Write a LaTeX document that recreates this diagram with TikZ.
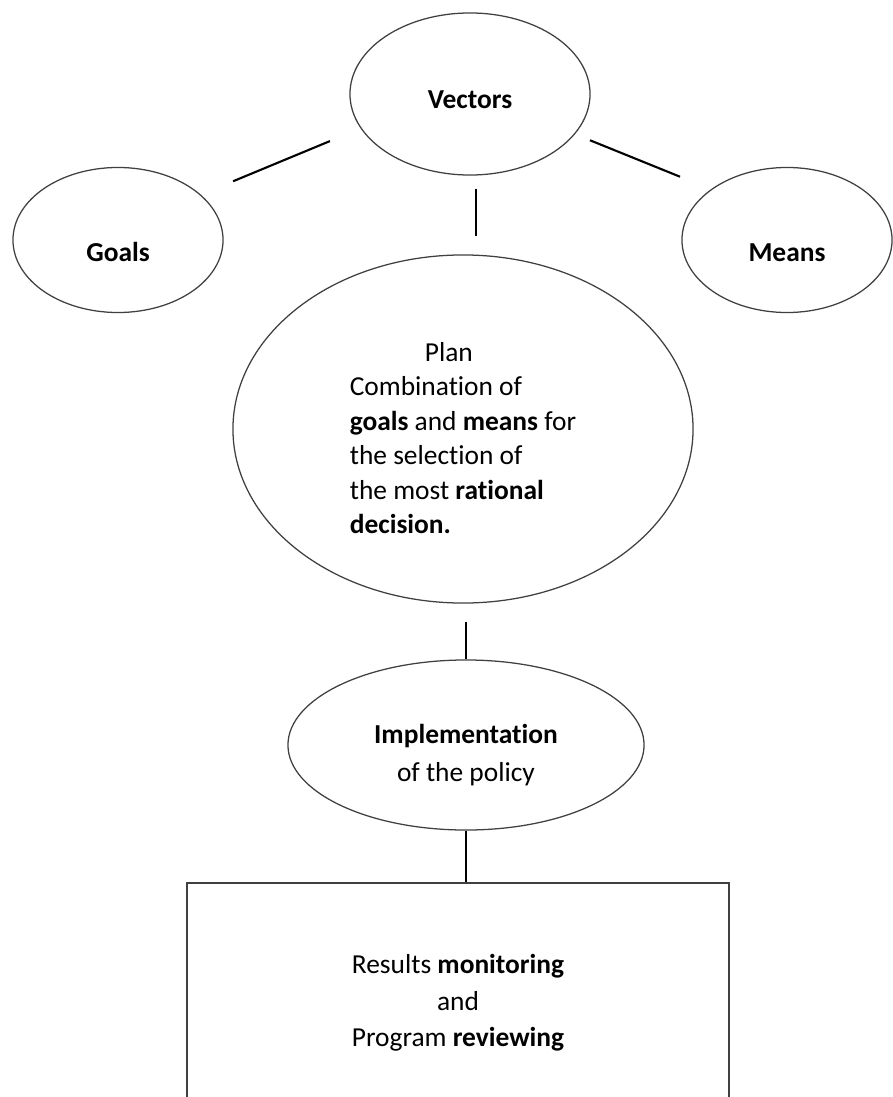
\documentclass[tikz,border=0pt]{standalone}
\usepackage{fontspec}
\setmainfont{Carlito}[Ligatures=NoCommon]
\usetikzlibrary{calc, shapes.geometric}

\begin{document}
\begin{tikzpicture}[
  x=0.025cm, y=-0.025cm,
  bubble/.style={draw=black!75, ellipse, line width=0.9pt, align=center,
                 inner sep=0pt, font=\fontsize{19.5}{24.5}\selectfont},
  side/.style={bubble, minimum width=5.25cm, minimum height=3.625cm,
               text height=1.15cm, text depth=0.1cm},
  panel/.style={draw=black!75, rectangle, line width=1.1pt, align=center,
                inner sep=0pt, font=\fontsize{19.5}{24.5}\selectfont},
  link/.style={draw=black, line width=1.5pt}
]
  \useasboundingbox (0,0) rectangle (893,1097);
  \clip (0,0) rectangle (893,1097);

  % ========== TOP: Vectors, Goals, Means ==========
  \node[bubble, minimum width=6cm, minimum height=4.05cm,
        text height=0.7cm, text depth=0cm] (vec) at (470,94) {\textbf{Vectors}};
  \node[side] (goals) at (118,240) {\textbf{Goals}};
  \node[side] (means) at (787,240) {\textbf{Means}};

  % ========== MIDDLE: Plan ==========
  \node[bubble, align=left, minimum width=11.5cm, minimum height=8.7cm] (plan) at (463,429) {
    \hspace*{1.875cm}\rule{0pt}{0.93cm}Plan\\
    Combination of\\
    \textbf{goals} and \textbf{means} for\\
    the selection of\\
    the most \textbf{rational}\\
    \textbf{decision.}
  };

  % ========== Implementation ==========
  \node[bubble, minimum width=8.9cm, minimum height=4.25cm] (impl) at (466,745)
    {\rule{0pt}{0.98cm}\textbf{Implementation}\\[3pt]of the policy};

  % ========== BOTTOM: Review box ==========
  \node[panel, minimum width=13.55cm, minimum height=6cm] (review) at (458,1003)
    {Results \textbf{monitoring}\\[1.4pt]and\\[1.4pt]Program \textbf{reviewing}};

  % ======== LINKS ========
  \draw[link] ($(goals)!0.327!(vec)+(0,-11)$) -- ($(goals)!0.602!(vec)+(0,-11)$);
  \draw[link] ($(vec)!0.3785!(means)+(0,-9)$) -- ($(vec)!0.6625!(means)+(0,-14)$);

  \draw[link, shorten <=0.325cm, shorten >=0.45cm]
    ($(vec.south)+(6,0)$) -- ($(vec.south |- plan.north)+(6,0)$);
  \draw[link, shorten <=0.45cm] (impl.north |- plan.south) -- (impl.north);
  \draw[link] (impl.south) -- (impl.south |- review.north);

\end{tikzpicture}
\end{document}
